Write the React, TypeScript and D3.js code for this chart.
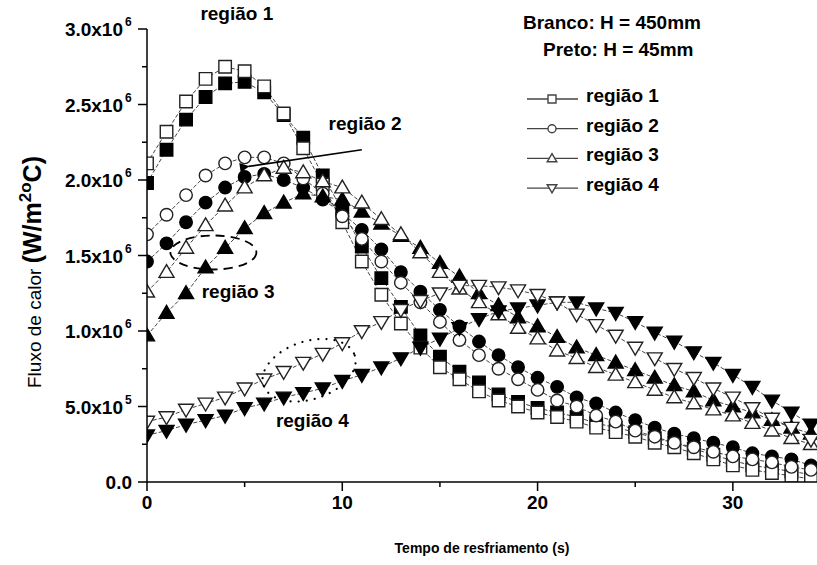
import React, { useRef, useEffect } from 'react';
import * as d3 from 'd3';

// tempo de resfriamento (s)
const tempo = [0, 1, 2, 3, 4, 5, 6, 7, 8, 9, 10, 11, 12, 13, 14, 15, 16, 17, 18, 19, 20, 21, 22, 23, 24, 25, 26, 27, 28, 29, 30, 31, 32, 33, 34];

// fluxo de calor em 10^6 W/m2oC — branco: H = 450mm, preto: H = 45mm
const regiao1Branco = [2.11, 2.32, 2.52, 2.67, 2.75, 2.72, 2.62, 2.44, 2.21, 1.97, 1.72, 1.46, 1.24, 1.05, 0.89, 0.76, 0.68, 0.60, 0.54, 0.50, 0.46, 0.43, 0.40, 0.36, 0.33, 0.30, 0.26, 0.23, 0.19, 0.15, 0.11, 0.08, 0.06, 0.04, 0.02];
const regiao1Preto = [1.98, 2.20, 2.40, 2.55, 2.64, 2.65, 2.58, 2.43, 2.28, 2.03, 1.80, 1.56, 1.35, 1.16, 0.97, 0.83, 0.73, 0.66, 0.58, 0.53, 0.49, 0.46, 0.43, 0.39, 0.36, 0.33, 0.29, 0.26, 0.22, 0.18, 0.14, 0.11, 0.09, 0.07, 0.05];
const regiao2Branco = [1.64, 1.77, 1.90, 2.03, 2.11, 2.15, 2.15, 2.11, 2.01, 1.91, 1.76, 1.61, 1.46, 1.32, 1.19, 1.06, 0.94, 0.84, 0.75, 0.68, 0.61, 0.54, 0.50, 0.44, 0.40, 0.34, 0.30, 0.26, 0.23, 0.20, 0.17, 0.15, 0.13, 0.10, 0.08];
const regiao2Preto = [1.46, 1.58, 1.72, 1.85, 1.95, 2.02, 2.04, 2.00, 1.95, 1.87, 1.78, 1.67, 1.54, 1.39, 1.26, 1.14, 1.03, 0.93, 0.84, 0.76, 0.69, 0.63, 0.56, 0.52, 0.46, 0.41, 0.36, 0.32, 0.29, 0.26, 0.23, 0.19, 0.17, 0.15, 0.11];
const regiao3Branco = [1.26, 1.39, 1.55, 1.70, 1.83, 1.95, 2.03, 2.08, 2.05, 1.99, 1.95, 1.85, 1.74, 1.64, 1.52, 1.39, 1.28, 1.19, 1.11, 1.02, 0.95, 0.87, 0.82, 0.76, 0.71, 0.66, 0.61, 0.56, 0.52, 0.48, 0.44, 0.39, 0.34, 0.29, 0.25];
const regiao3Preto = [0.97, 1.12, 1.25, 1.42, 1.55, 1.68, 1.78, 1.85, 1.91, 1.89, 1.87, 1.79, 1.71, 1.63, 1.55, 1.45, 1.36, 1.25, 1.17, 1.09, 1.03, 0.96, 0.89, 0.84, 0.79, 0.74, 0.69, 0.64, 0.60, 0.54, 0.50, 0.46, 0.41, 0.36, 0.32];
const regiao4Branco = [0.40, 0.43, 0.48, 0.52, 0.56, 0.62, 0.68, 0.73, 0.79, 0.85, 0.92, 1.00, 1.06, 1.14, 1.20, 1.25, 1.30, 1.30, 1.29, 1.27, 1.24, 1.19, 1.11, 1.04, 0.97, 0.89, 0.82, 0.75, 0.69, 0.62, 0.56, 0.49, 0.42, 0.36, 0.28];
const regiao4Preto = [0.31, 0.34, 0.38, 0.41, 0.44, 0.49, 0.52, 0.56, 0.59, 0.62, 0.67, 0.71, 0.76, 0.82, 0.89, 0.95, 1.02, 1.08, 1.13, 1.15, 1.17, 1.19, 1.19, 1.15, 1.12, 1.06, 0.99, 0.93, 0.86, 0.79, 0.71, 0.63, 0.54, 0.46, 0.38];

const yTicks = [0, 0.5, 1.0, 1.5, 2.0, 2.5, 3.0];
const yTickLabels = [['0.0', ''], ['5.0x10', '5'], ['1.0x10', '6'], ['1.5x10', '6'], ['2.0x10', '6'], ['2.5x10', '6'], ['3.0x10', '6']];
const xTicks = [0, 10, 20, 30];
const legendLabels = ['região 1', 'região 2', 'região 3', 'região 4'];
const shapes = ['square', 'circle', 'up', 'down'];

const series = [
  { shape: 'square', filled: true, values: regiao1Preto },
  { shape: 'square', filled: false, values: regiao1Branco },
  { shape: 'circle', filled: true, values: regiao2Preto },
  { shape: 'circle', filled: false, values: regiao2Branco },
  { shape: 'up', filled: true, values: regiao3Preto },
  { shape: 'up', filled: false, values: regiao3Branco },
  { shape: 'down', filled: true, values: regiao4Preto },
  { shape: 'down', filled: false, values: regiao4Branco },
];

const FONT = "'Liberation Sans', Arial, sans-serif";

// desenha um marcador no grupo g
const drawMarker = (g, shape, s, filled, stroke) => {
  const fill = filled ? '#000' : '#fff';
  const col = filled ? '#000' : stroke;
  if (shape === 'circle') {
    g.append('circle').attr('r', s * 0.5).attr('fill', fill).attr('stroke', col).attr('stroke-width', 1.4);
    return;
  }
  let d = '';
  const h = s / 2;
  if (shape === 'square') d = `M${-h},${-h}H${h}V${h}H${-h}Z`;
  if (shape === 'up') d = `M0,${-h * 1.2}L${h * 1.2},${h * 0.85}L${-h * 1.2},${h * 0.85}Z`;
  if (shape === 'down') d = `M0,${h * 1.2}L${h * 1.2},${-h * 0.85}L${-h * 1.2},${-h * 0.85}Z`;
  g.append('path').attr('d', d).attr('fill', fill).attr('stroke', col).attr('stroke-width', 1.4);
};

const App = () => {
  const svgRef = useRef(null);

  useEffect(() => {
    const svg = d3.select(svgRef.current);
    svg.selectAll('*').remove();

    const x = d3.scaleLinear().domain([0, 35]).range([147, 830.5]);
    const y = d3.scaleLinear().domain([0, 3.0]).range([482, 29]);

    svg.append('rect').attr('width', 817).attr('height', 565).attr('fill', '#fff');

    svg.append('defs').append('clipPath').attr('id', 'area')
      .append('rect').attr('x', x(0)).attr('y', 0).attr('width', 700).attr('height', y(0));

    // curvas
    const plot = svg.append('g').attr('clip-path', 'url(#area)');
    const line = d3.line().x((d, i) => x(tempo[i])).y(d => y(d));

    series.forEach(s => {
      plot.append('path')
        .datum(s.values)
        .attr('d', line)
        .attr('fill', 'none')
        .attr('stroke', '#444')
        .attr('stroke-width', 1)
        .attr('stroke-dasharray', '4,2');
    });

    series.forEach(s => {
      s.values.forEach((v, i) => {
        const m = plot.append('g').attr('transform', `translate(${x(tempo[i])},${y(v)})`);
        drawMarker(m, s.shape, 12.5, s.filled, '#222');
      });
    });

    // eixo Y
    const yAxis = svg.append('g').attr('transform', `translate(${x(0)},0)`);
    yAxis.append('line').attr('x1', 0).attr('x2', 0).attr('y1', y(3.0)).attr('y2', y(0))
      .attr('stroke', '#000').attr('stroke-width', 1.5);
    d3.range(0, 3.01, 0.25).forEach(t => {
      const major = Math.abs(t * 2 - Math.round(t * 2)) < 1e-6;
      yAxis.append('line').attr('x1', major ? -9 : -5).attr('x2', 0)
        .attr('y1', y(t)).attr('y2', y(t)).attr('stroke', '#000').attr('stroke-width', 1.5);
    });
    yTicks.forEach((t, i) => {
      const [base, exp] = yTickLabels[i];
      yAxis.append('text')
        .attr('x', exp ? -24 : -15)
        .attr('y', y(t) + 7)
        .attr('text-anchor', 'end')
        .style('font-family', FONT)
        .style('font-weight', 'bold')
        .style('font-size', '19px')
        .text(base);
      if (exp) {
        yAxis.append('text')
          .attr('x', -22)
          .attr('y', y(t) - 3)
          .style('font-family', FONT)
          .style('font-weight', 'bold')
          .style('font-size', '12px')
          .text(exp);
      }
    });

    // eixo X
    const xAxis = svg.append('g').attr('transform', `translate(0,${y(0)})`);
    xAxis.append('line').attr('x1', x(0)).attr('x2', 817).attr('y1', 0).attr('y2', 0)
      .attr('stroke', '#000').attr('stroke-width', 1.5);
    d3.range(0, 35, 5).forEach(t => {
      xAxis.append('line').attr('x1', x(t)).attr('x2', x(t))
        .attr('y1', 0).attr('y2', t % 10 === 0 ? 9 : 5)
        .attr('stroke', '#000').attr('stroke-width', 1.5);
    });
    xTicks.forEach(t => {
      xAxis.append('text')
        .attr('x', x(t))
        .attr('y', 27)
        .attr('text-anchor', 'middle')
        .style('font-family', FONT)
        .style('font-weight', 'bold')
        .style('font-size', '19px')
        .text(t);
    });

    // títulos dos eixos
    svg.append('text')
      .attr('x', 482)
      .attr('y', 553)
      .attr('text-anchor', 'middle')
      .style('font-family', FONT)
      .style('font-weight', 'bold')
      .style('font-size', '14px')
      .text('Tempo de resfriamento (s)');

    const yt = svg.append('text')
      .attr('transform', `translate(41,272) rotate(-90)`)
      .attr('text-anchor', 'middle')
      .style('font-family', FONT);
    yt.append('tspan').style('font-size', '19px').text('Fluxo de calor ');
    yt.append('tspan').style('font-size', '25px').style('font-weight', 'bold').text('(W/m');
    yt.append('tspan').style('font-size', '17px').style('font-weight', 'bold').attr('dy', -10).text('2o');
    yt.append('tspan').style('font-size', '25px').style('font-weight', 'bold').attr('dy', 10).text('C)');

    // anotações
    const label = (tx, ty, text, anchor = 'start') => svg.append('text')
      .attr('x', tx).attr('y', ty).attr('text-anchor', anchor)
      .style('font-family', FONT).style('font-weight', 'bold').style('font-size', '19px')
      .text(text);

    label(x(4.6), 20, 'região 1', 'middle');
    label(x(9.3), 130, 'região 2');
    label(x(2.8), 298, 'região 3');
    label(x(6.6), 427, 'região 4');

    svg.select('defs').append('marker')
      .attr('id', 'seta').attr('viewBox', '0 0 10 10').attr('refX', 1).attr('refY', 5)
      .attr('markerWidth', 9).attr('markerHeight', 6).attr('orient', 'auto-start-reverse')
      .append('path').attr('d', 'M0,5L10,0L10,10Z').attr('fill', '#000');

    svg.append('line')
      .attr('x1', x(11.0)).attr('y1', y(2.2))
      .attr('x2', x(5.2)).attr('y2', y(2.09))
      .attr('stroke', '#000').attr('stroke-width', 1.6)
      .attr('marker-end', 'url(#seta)');

    svg.append('ellipse')
      .attr('cx', x(3.4)).attr('cy', y(1.52))
      .attr('rx', 43).attr('ry', 17)
      .attr('fill', 'none').attr('stroke', '#000').attr('stroke-width', 1.8)
      .attr('stroke-dasharray', '9,6');

    svg.append('ellipse')
      .attr('transform', `translate(${x(8.3)},${y(0.74)}) rotate(-18)`)
      .attr('rx', 48).attr('ry', 29)
      .attr('fill', 'none').attr('stroke', '#000').attr('stroke-width', 2.2)
      .attr('stroke-linecap', 'round')
      .attr('stroke-dasharray', '0.1,8');

    // legenda
    const leg = svg.append('g').style('font-family', FONT).style('font-weight', 'bold');
    leg.append('text').attr('x', 523).attr('y', 29).style('font-size', '19px').text('Branco: H = 450mm');
    leg.append('text').attr('x', 543).attr('y', 56).style('font-size', '19px').text('Preto: H = 45mm');

    legendLabels.forEach((lab, i) => {
      const by = 102 + i * 29.7;
      const it = leg.append('g');
      it.append('line').attr('x1', 527).attr('x2', 578).attr('y1', by - 3).attr('y2', by - 3)
        .attr('stroke', '#444').attr('stroke-width', 1.3);
      const m = it.append('g').attr('transform', `translate(552,${by - 3})`);
      drawMarker(m, shapes[i], 8, false, '#444');
      it.append('text').attr('x', 586).attr('y', by).style('font-size', '19px').text(lab);
    });
  }, []);

  return (
    <div style={{ position: 'absolute', left: 0, top: 0 }}>
      <svg ref={svgRef} width={817} height={565} style={{ display: 'block' }} />
    </div>
  );
};

export default App;
